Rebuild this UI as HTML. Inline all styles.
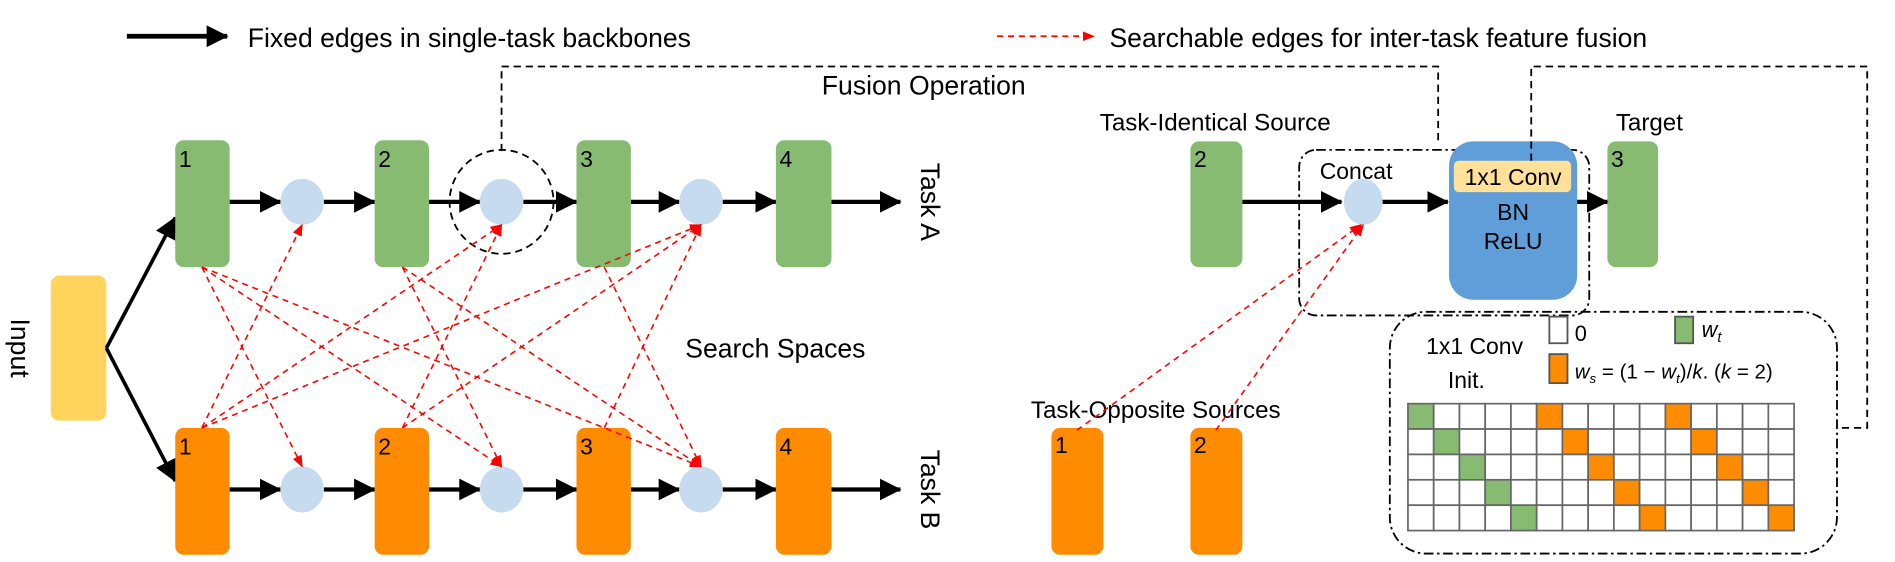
<!DOCTYPE html>
<html><head><meta charset="utf-8"><style>
body{margin:0;background:#fff}
svg{display:block}
text{font-family:"Liberation Sans",sans-serif;fill:#000}
</style></head><body>
<svg width="1895" height="562" viewBox="0 0 1568 465" preserveAspectRatio="none" xmlns="http://www.w3.org/2000/svg">
<defs>
<marker id="abig" markerWidth="18" markerHeight="18" refX="17" refY="9" orient="auto" markerUnits="userSpaceOnUse"><path d="M0,0 L18,9 L0,18 z" fill="#000"/></marker>
<marker id="ar" markerWidth="10" markerHeight="10" refX="9" refY="5" orient="auto" markerUnits="userSpaceOnUse"><path d="M0,1 L10,5 L0,9 z" fill="#f00"/></marker>
</defs>

<line x1="105" y1="30" x2="188" y2="30" stroke="#000" stroke-width="4" marker-end="url(#abig)"/>
<text x="205" y="39" font-size="22">Fixed edges in single-task backbones</text>
<line x1="825" y1="30" x2="905" y2="30" stroke="#f00" stroke-width="1.5" stroke-dasharray="5,4" marker-end="url(#ar)"/>
<text x="918" y="39" font-size="22">Searchable edges for inter-task feature fusion</text>

<polyline points="415,125 415,55 1190,55 1190,118" fill="none" stroke="#000" stroke-width="1.5" stroke-dasharray="6,4"/>
<text x="680" y="78" font-size="22">Fusion Operation</text>
<circle cx="415" cy="167" r="43" fill="none" stroke="#000" stroke-width="1.5" stroke-dasharray="6,4"/>

<rect x="42" y="228" width="46" height="120" rx="7" fill="#FFD35C"/>
<text transform="translate(9,288) rotate(90)" font-size="22" text-anchor="middle">Input</text>
<line x1="88" y1="288" x2="145" y2="180" stroke="#000" stroke-width="3" marker-end="url(#abig)"/>
<line x1="88" y1="288" x2="145" y2="398" stroke="#000" stroke-width="3" marker-end="url(#abig)"/>

<g stroke="#000" stroke-width="3.5">
<line x1="190" y1="167" x2="232" y2="167" marker-end="url(#abig)"/>
<line x1="268" y1="167" x2="310" y2="167" marker-end="url(#abig)"/>
<line x1="355" y1="167" x2="397" y2="167" marker-end="url(#abig)"/>
<line x1="433" y1="167" x2="477" y2="167" marker-end="url(#abig)"/>
<line x1="522" y1="167" x2="562" y2="167" marker-end="url(#abig)"/>
<line x1="598" y1="167" x2="642" y2="167" marker-end="url(#abig)"/>
<line x1="688" y1="167" x2="745" y2="167" marker-end="url(#abig)"/>
<line x1="190" y1="405" x2="232" y2="405" marker-end="url(#abig)"/>
<line x1="268" y1="405" x2="310" y2="405" marker-end="url(#abig)"/>
<line x1="355" y1="405" x2="397" y2="405" marker-end="url(#abig)"/>
<line x1="433" y1="405" x2="477" y2="405" marker-end="url(#abig)"/>
<line x1="522" y1="405" x2="562" y2="405" marker-end="url(#abig)"/>
<line x1="598" y1="405" x2="642" y2="405" marker-end="url(#abig)"/>
<line x1="688" y1="405" x2="745" y2="405" marker-end="url(#abig)"/>
</g>
<g fill="#88BB72">
<rect x="145" y="116" width="45" height="105" rx="7"/>
<rect x="310" y="116" width="45" height="105" rx="7"/>
<rect x="477" y="116" width="45" height="105" rx="7"/>
<rect x="642" y="116" width="46" height="105" rx="7"/>
</g>
<g fill="#FF8C00">
<rect x="145" y="354" width="45" height="105" rx="7"/>
<rect x="310" y="354" width="45" height="105" rx="7"/>
<rect x="477" y="354" width="45" height="105" rx="7"/>
<rect x="642" y="354" width="46" height="105" rx="7"/>
</g>
<g fill="#C6DBEF">
<ellipse cx="250" cy="167" rx="18" ry="19"/><ellipse cx="415" cy="167" rx="18" ry="19"/><ellipse cx="580" cy="167" rx="18" ry="19"/>
<ellipse cx="250" cy="405" rx="18" ry="19"/><ellipse cx="415" cy="405" rx="18" ry="19"/><ellipse cx="580" cy="405" rx="18" ry="19"/>
</g>
<g font-size="19">
<text x="148" y="138">1</text><text x="313" y="138">2</text><text x="480" y="138">3</text><text x="645" y="138">4</text>
<text x="148" y="376">1</text><text x="313" y="376">2</text><text x="480" y="376">3</text><text x="645" y="376">4</text>
</g>
<text transform="translate(762,167) rotate(90)" font-size="22" text-anchor="middle">Task A</text>
<text transform="translate(762,405) rotate(90)" font-size="22" text-anchor="middle">Task B</text>
<text x="567" y="296" font-size="22">Search Spaces</text>

<g stroke="#f00" stroke-width="1.3" stroke-dasharray="5,4" fill="none">
<line x1="167" y1="221" x2="250" y2="386" marker-end="url(#ar)"/>
<line x1="167" y1="221" x2="415" y2="386" marker-end="url(#ar)"/>
<line x1="167" y1="221" x2="580" y2="386" marker-end="url(#ar)"/>
<line x1="333" y1="221" x2="415" y2="386" marker-end="url(#ar)"/>
<line x1="333" y1="221" x2="580" y2="386" marker-end="url(#ar)"/>
<line x1="500" y1="221" x2="580" y2="386" marker-end="url(#ar)"/>
<line x1="167" y1="354" x2="250" y2="186" marker-end="url(#ar)"/>
<line x1="167" y1="354" x2="415" y2="186" marker-end="url(#ar)"/>
<line x1="167" y1="354" x2="580" y2="186" marker-end="url(#ar)"/>
<line x1="333" y1="354" x2="415" y2="186" marker-end="url(#ar)"/>
<line x1="333" y1="354" x2="580" y2="186" marker-end="url(#ar)"/>
<line x1="500" y1="354" x2="580" y2="186" marker-end="url(#ar)"/>
</g>

<text x="910" y="108" font-size="20">Task-Identical Source</text>
<text x="1337" y="108" font-size="20">Target</text>
<rect x="1075" y="124" width="240" height="137" rx="14" fill="none" stroke="#000" stroke-width="1.5" stroke-dasharray="8,3,2,3"/>
<rect x="985" y="117" width="43" height="104" rx="7" fill="#88BB72"/>
<text x="988" y="138" font-size="19">2</text>
<rect x="1330" y="117" width="42" height="104" rx="7" fill="#88BB72"/>
<text x="1333" y="138" font-size="19">3</text>
<text x="1092" y="148" font-size="19">Concat</text>
<ellipse cx="1128" cy="167" rx="16" ry="19" fill="#C6DBEF"/>
<rect x="1199" y="117" width="106" height="131" rx="20" fill="#5F9ED8"/>
<rect x="1203" y="133" width="97" height="26" rx="4" fill="#FFE19A"/>
<text x="1252" y="153" font-size="19" text-anchor="middle">1x1 Conv</text>
<text x="1252" y="182" font-size="19" text-anchor="middle">BN</text>
<text x="1252" y="206" font-size="19" text-anchor="middle">ReLU</text>
<g stroke="#000" stroke-width="3.5">
<line x1="1028" y1="167" x2="1110" y2="167" marker-end="url(#abig)"/>
<line x1="1144" y1="167" x2="1198" y2="167" marker-end="url(#abig)"/>
<line x1="1305" y1="167" x2="1330" y2="167" marker-end="url(#abig)"/>
</g>
<polyline points="1267,133 1267,55 1545,55 1545,354 1520,354" fill="none" stroke="#000" stroke-width="1.5" stroke-dasharray="6,4"/>

<text x="853" y="346" font-size="20">Task-Opposite Sources</text>
<rect x="870" y="354" width="43" height="105" rx="7" fill="#FF8C00"/>
<text x="873" y="375" font-size="19">1</text>
<rect x="985" y="354" width="43" height="105" rx="7" fill="#FF8C00"/>
<text x="988" y="375" font-size="19">2</text>
<g stroke="#f00" stroke-width="1.3" stroke-dasharray="5,4" fill="none">
<line x1="891" y1="356" x2="1126" y2="186" marker-end="url(#ar)"/>
<line x1="1006" y1="356" x2="1128" y2="186" marker-end="url(#ar)"/>
</g>

<rect x="1150" y="258" width="370" height="200" rx="30" fill="none" stroke="#000" stroke-width="1.5" stroke-dasharray="8,3,2,3"/>
<text x="1180" y="293" font-size="19">1x1 Conv</text>
<text x="1198" y="321" font-size="19">Init.</text>
<rect x="1282" y="262" width="15" height="22" fill="#fff" stroke="#555" stroke-width="1.5"/>
<text x="1303" y="282" font-size="18">0</text>
<rect x="1386" y="262" width="15" height="22" fill="#88BB72" stroke="#555" stroke-width="1.5"/>
<text x="1408" y="279" font-size="18" font-family="Liberation Serif" font-style="italic">w<tspan font-size="12" dy="4">t</tspan></text>
<rect x="1282" y="293" width="15" height="24" fill="#FF8C00" stroke="#555" stroke-width="1.5"/>
<text x="1303" y="313" font-size="17" font-family="Liberation Serif" font-style="italic">w<tspan font-size="11" dy="4">s</tspan><tspan dy="-4" font-style="normal"> = (1 − </tspan>w<tspan font-size="11" dy="4">t</tspan><tspan dy="-4" font-style="normal">)/</tspan>k<tspan font-style="normal">. (</tspan>k<tspan font-style="normal"> = 2)</tspan></text>
<g stroke="#666" stroke-width="1.4">
<rect x="1165" y="334" width="21.3" height="21" fill="#88BB72"/><rect x="1186.3" y="334" width="21.3" height="21" fill="#fff"/><rect x="1207.6" y="334" width="21.3" height="21" fill="#fff"/><rect x="1228.9" y="334" width="21.3" height="21" fill="#fff"/><rect x="1250.2" y="334" width="21.3" height="21" fill="#fff"/><rect x="1271.5" y="334" width="21.3" height="21" fill="#FF8C00"/><rect x="1292.8" y="334" width="21.3" height="21" fill="#fff"/><rect x="1314.1" y="334" width="21.3" height="21" fill="#fff"/><rect x="1335.4" y="334" width="21.3" height="21" fill="#fff"/><rect x="1356.7" y="334" width="21.3" height="21" fill="#fff"/><rect x="1378" y="334" width="21.3" height="21" fill="#FF8C00"/><rect x="1399.3" y="334" width="21.3" height="21" fill="#fff"/><rect x="1420.6" y="334" width="21.3" height="21" fill="#fff"/><rect x="1441.9" y="334" width="21.3" height="21" fill="#fff"/><rect x="1463.2" y="334" width="21.3" height="21" fill="#fff"/>
<rect x="1165" y="355" width="21.3" height="21" fill="#fff"/><rect x="1186.3" y="355" width="21.3" height="21" fill="#88BB72"/><rect x="1207.6" y="355" width="21.3" height="21" fill="#fff"/><rect x="1228.9" y="355" width="21.3" height="21" fill="#fff"/><rect x="1250.2" y="355" width="21.3" height="21" fill="#fff"/><rect x="1271.5" y="355" width="21.3" height="21" fill="#fff"/><rect x="1292.8" y="355" width="21.3" height="21" fill="#FF8C00"/><rect x="1314.1" y="355" width="21.3" height="21" fill="#fff"/><rect x="1335.4" y="355" width="21.3" height="21" fill="#fff"/><rect x="1356.7" y="355" width="21.3" height="21" fill="#fff"/><rect x="1378" y="355" width="21.3" height="21" fill="#fff"/><rect x="1399.3" y="355" width="21.3" height="21" fill="#FF8C00"/><rect x="1420.6" y="355" width="21.3" height="21" fill="#fff"/><rect x="1441.9" y="355" width="21.3" height="21" fill="#fff"/><rect x="1463.2" y="355" width="21.3" height="21" fill="#fff"/>
<rect x="1165" y="376" width="21.3" height="21" fill="#fff"/><rect x="1186.3" y="376" width="21.3" height="21" fill="#fff"/><rect x="1207.6" y="376" width="21.3" height="21" fill="#88BB72"/><rect x="1228.9" y="376" width="21.3" height="21" fill="#fff"/><rect x="1250.2" y="376" width="21.3" height="21" fill="#fff"/><rect x="1271.5" y="376" width="21.3" height="21" fill="#fff"/><rect x="1292.8" y="376" width="21.3" height="21" fill="#fff"/><rect x="1314.1" y="376" width="21.3" height="21" fill="#FF8C00"/><rect x="1335.4" y="376" width="21.3" height="21" fill="#fff"/><rect x="1356.7" y="376" width="21.3" height="21" fill="#fff"/><rect x="1378" y="376" width="21.3" height="21" fill="#fff"/><rect x="1399.3" y="376" width="21.3" height="21" fill="#fff"/><rect x="1420.6" y="376" width="21.3" height="21" fill="#FF8C00"/><rect x="1441.9" y="376" width="21.3" height="21" fill="#fff"/><rect x="1463.2" y="376" width="21.3" height="21" fill="#fff"/>
<rect x="1165" y="397" width="21.3" height="21" fill="#fff"/><rect x="1186.3" y="397" width="21.3" height="21" fill="#fff"/><rect x="1207.6" y="397" width="21.3" height="21" fill="#fff"/><rect x="1228.9" y="397" width="21.3" height="21" fill="#88BB72"/><rect x="1250.2" y="397" width="21.3" height="21" fill="#fff"/><rect x="1271.5" y="397" width="21.3" height="21" fill="#fff"/><rect x="1292.8" y="397" width="21.3" height="21" fill="#fff"/><rect x="1314.1" y="397" width="21.3" height="21" fill="#fff"/><rect x="1335.4" y="397" width="21.3" height="21" fill="#FF8C00"/><rect x="1356.7" y="397" width="21.3" height="21" fill="#fff"/><rect x="1378" y="397" width="21.3" height="21" fill="#fff"/><rect x="1399.3" y="397" width="21.3" height="21" fill="#fff"/><rect x="1420.6" y="397" width="21.3" height="21" fill="#fff"/><rect x="1441.9" y="397" width="21.3" height="21" fill="#FF8C00"/><rect x="1463.2" y="397" width="21.3" height="21" fill="#fff"/>
<rect x="1165" y="418" width="21.3" height="21" fill="#fff"/><rect x="1186.3" y="418" width="21.3" height="21" fill="#fff"/><rect x="1207.6" y="418" width="21.3" height="21" fill="#fff"/><rect x="1228.9" y="418" width="21.3" height="21" fill="#fff"/><rect x="1250.2" y="418" width="21.3" height="21" fill="#88BB72"/><rect x="1271.5" y="418" width="21.3" height="21" fill="#fff"/><rect x="1292.8" y="418" width="21.3" height="21" fill="#fff"/><rect x="1314.1" y="418" width="21.3" height="21" fill="#fff"/><rect x="1335.4" y="418" width="21.3" height="21" fill="#fff"/><rect x="1356.7" y="418" width="21.3" height="21" fill="#FF8C00"/><rect x="1378" y="418" width="21.3" height="21" fill="#fff"/><rect x="1399.3" y="418" width="21.3" height="21" fill="#fff"/><rect x="1420.6" y="418" width="21.3" height="21" fill="#fff"/><rect x="1441.9" y="418" width="21.3" height="21" fill="#fff"/><rect x="1463.2" y="418" width="21.3" height="21" fill="#FF8C00"/>
</g>
</svg>
</body></html>
